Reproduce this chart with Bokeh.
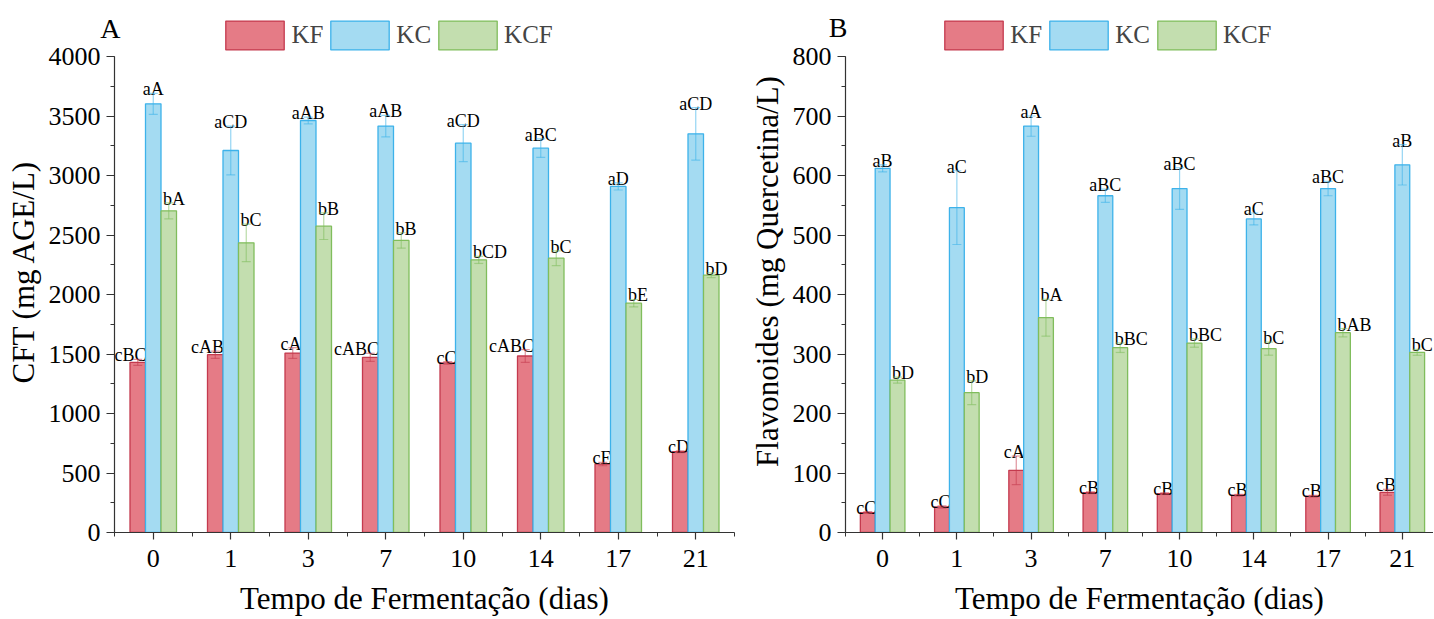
from bokeh.plotting import figure
from bokeh.models import (ColumnDataSource, Range1d, SingleIntervalTicker, FixedTicker,
                          Whisker, TeeHead, Legend, LegendItem, LinearAxis)
from bokeh.layouts import row
from bokeh.embed import file_html
from bokeh.resources import INLINE
from bokeh.core.properties import value

# ---------------- data ----------------
days = ["0", "1", "3", "7", "10", "14", "17", "21"]
series = ["KF", "KC", "KCF"]

cft_kf = [1430, 1494, 1508, 1472, 1425, 1483, 575, 679]
cft_kf_err = [25, 31, 45, 34, 11, 53, 14, 8]
cft_kc = [3602, 3210, 3462, 3415, 3272, 3230, 2908, 3350]
cft_kc_err = [88, 205, 28, 90, 155, 78, 30, 220]
cft_kcf = [2703, 2434, 2574, 2454, 2291, 2305, 1927, 2162]
cft_kcf_err = [67, 157, 112, 65, 30, 62, 31, 20]
cft_kf_lab = ["cBC", "cAB", "cA", "cABC", "cC", "cABC", "cE", "cD"]
cft_kc_lab = ["aA", "aCD", "aAB", "aAB", "aCD", "aBC", "aD", "aCD"]
cft_kcf_lab = ["bA", "bC", "bB", "bB", "bCD", "bC", "bE", "bD"]

flav_kf = [33.5, 43, 104.5, 67, 65.4, 62.6, 61, 67.6]
flav_kf_err = [1.5, 2, 24, 1.5, 1.5, 1.5, 1.5, 5]
flav_kc = [612, 546, 683, 566, 578, 527, 578, 618]
flav_kc_err = [6, 62, 17, 11, 35, 10, 12, 34]
flav_kcf = [256, 235, 361, 310.6, 318.4, 309, 335.8, 302.8]
flav_kcf_err = [5, 20, 31, 8, 7, 11, 7, 5]
flav_kf_lab = ["cC", "cC", "cA", "cB", "cB", "cB", "cB", "cB"]
flav_kc_lab = ["aB", "aC", "aA", "aBC", "aBC", "aC", "aBC", "aB"]
flav_kcf_lab = ["bD", "bD", "bA", "bBC", "bBC", "bC", "bAB", "bC"]

# ---------------- style ----------------
FONT = "Liberation Serif"
fills = ["#E57B86", "#A4DBF2", "#C3DEAF"]
lines = ["#C43A4E", "#3DB2EA", "#80BD5C"]
offsets = [-0.2, 0.0, 0.2]

H = 618
TOP = 10          # frame top (px)
BOTTOM = 86       # space below frame
AX_TOP_PX = 56    # pixel row of the top tick
LETTER_MID_PX = 27.5  # pixel row of the panel letter's middle


def make_panel(vals, errs, labs, ymax, yint, ylabel, letter, width, frame_left,
               unit_px, xend, legend_px, letter_standoff, ylabel_standoff):
    frame_h = H - TOP - BOTTOM
    axis_h = frame_h - (AX_TOP_PX - TOP)
    ytop = ymax * frame_h / axis_h
    xstart = -0.5
    frame_w = int(round((xend - xstart) * unit_px))
    p = figure(width=width, height=H, output_backend="svg", toolbar_location=None,
               x_range=Range1d(xstart, xend), y_range=Range1d(0, ytop),
               min_border_left=frame_left, min_border_right=max(0, width - frame_left - frame_w),
               min_border_top=TOP, min_border_bottom=BOTTOM)
    p.outline_line_color = None
    p.grid.visible = False
    p.background_fill_color = "white"

    n = len(days)
    items = []
    for k in range(3):
        xs = [i + offsets[k] for i in range(n)]
        if k == 0:
            tx = [x + 0.1 for x in xs]
            align, xoff = "right", 1
        elif k == 1:
            tx = xs
            align, xoff = "center", 0
        else:
            tx = [x - 0.1 for x in xs]
            align, xoff = "left", 2
        src = ColumnDataSource(dict(
            x=xs, top=vals[k],
            upper=[v + e for v, e in zip(vals[k], errs[k])],
            lower=[v - e for v, e in zip(vals[k], errs[k])],
            tx=tx, lab=labs[k]))
        r = p.vbar(x="x", top="top", bottom=0, width=0.2, source=src,
                   fill_color=fills[k], line_color=lines[k], line_width=1.3)
        items.append(LegendItem(label=series[k], renderers=[r]))
        w = Whisker(source=src, base="x", upper="upper", lower="lower", level="annotation",
                    line_color=lines[k], line_alpha=0.55, line_width=1.2,
                    upper_head=TeeHead(size=9, line_color=lines[k], line_alpha=0.55, line_width=1.2),
                    lower_head=TeeHead(size=9, line_color=lines[k], line_alpha=0.55, line_width=1.2))
        p.add_layout(w)
        p.text(x="tx", y="upper", text="lab", source=src, text_align=align,
               text_baseline="alphabetic", x_offset=xoff, y_offset=-4,
               text_font=value(FONT), text_font_size="18px", text_color="black")

    # legend glyph area: bokeh draws the swatch inset by 10 % on each side
    legend = Legend(items=items, location=(legend_px[0] - frame_left, H - BOTTOM - legend_px[1]),
                    orientation="horizontal",
                    glyph_width=73, glyph_height=36, label_standoff=0, spacing=0,
                    padding=0, margin=0, border_line_color=None,
                    background_fill_alpha=0,
                    label_text_font=FONT, label_text_font_size="25px")
    p.add_layout(legend, "center")

    # axes
    xa = p.xaxis[0]
    xa.ticker = FixedTicker(ticks=list(range(n)), minor_ticks=[i - 0.5 for i in range(n + 1)])
    xa.major_label_overrides = {i: days[i] for i in range(n)}
    xa.axis_label = "Tempo de Fermentação (dias)"
    ya = p.yaxis[0]
    ya.ticker = SingleIntervalTicker(interval=yint, num_minor_ticks=2)
    ya.axis_label = ylabel
    ya.bounds = (0, ymax)
    for ax in (xa, ya):
        ax.axis_line_color = "#333333"
        ax.axis_line_width = 1.2
        ax.major_tick_line_color = "#333333"
        ax.minor_tick_line_color = "#333333"
        ax.major_tick_line_width = 1.2
        ax.minor_tick_line_width = 1.0
        ax.major_tick_in = 0
        ax.minor_tick_in = 0
        ax.minor_tick_out = 4
        ax.major_label_text_font = FONT
        ax.major_label_text_font_size = "26px"
        ax.major_label_text_color = "black"
        ax.axis_label_text_font = FONT
        ax.axis_label_text_font_size = "31px"
        ax.axis_label_text_font_style = "normal"
        ax.axis_label_text_color = "black"
    xa.major_tick_out = 7
    ya.major_tick_out = 8
    xa.major_label_standoff = 10
    ya.major_label_standoff = 6
    xa.axis_label_standoff = 11
    ya.axis_label_standoff = ylabel_standoff

    # panel letter as the single tick label of an outer, otherwise empty, left axis
    y_letter = int(round(ymax * (H - BOTTOM - LETTER_MID_PX) / axis_h))
    la = LinearAxis(ticker=FixedTicker(ticks=[y_letter], minor_ticks=[]),
                    major_label_overrides={y_letter: letter},
                    axis_line_color=None, major_tick_line_color=None,
                    minor_tick_line_color=None, major_tick_out=0, major_tick_in=0,
                    minor_tick_out=0, minor_tick_in=0,
                    major_label_standoff=-letter_standoff,
                    major_label_text_font=FONT, major_label_text_font_size="28px",
                    major_label_text_color="black")
    p.add_layout(la, "left")
    return p


pA = make_panel([cft_kf, cft_kc, cft_kcf], [cft_kf_err, cft_kc_err, cft_kcf_err],
                [cft_kf_lab, cft_kc_lab, cft_kcf_lab], 4000, 500, "CFT (mg AGE/L)", "A",
                745, 114, 77.5, 7.5, (218.4, 52.6), 118, 5)
pB = make_panel([flav_kf, flav_kc, flav_kcf], [flav_kf_err, flav_kc_err, flav_kcf_err],
                [flav_kf_lab, flav_kc_lab, flav_kcf_lab], 800, 100,
                "Flavonoides (mg Quercetina/L)", "B",
                688, 100, 74.3, 7.42, (937.2 - 745, 52.6), 101, 5)

layout = row(pA, pB)
open("out.html", "w").write(file_html(layout, INLINE))
